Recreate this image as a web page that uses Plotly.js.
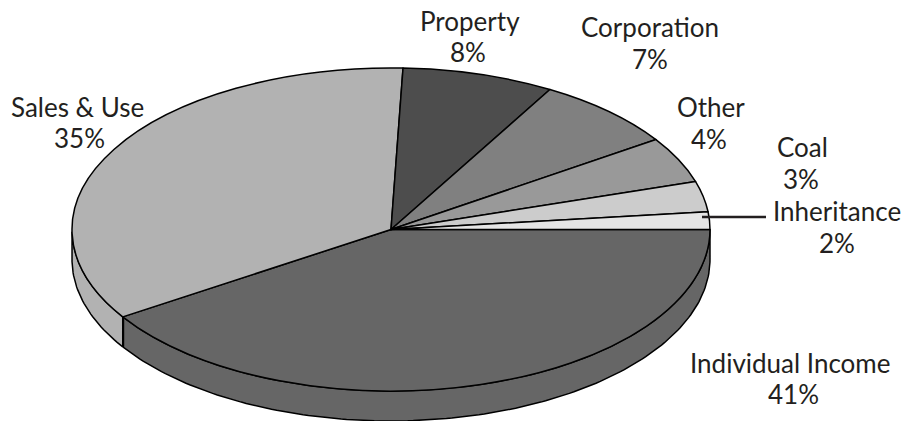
<!DOCTYPE html>
<html>
<head>
<meta charset="utf-8">
<script src="https://cdn.plot.ly/plotly-3.0.1.min.js"></script>
<style>
html,body{margin:0;padding:0;background:#fff;overflow:hidden}
.pielayer path{vector-effect:non-scaling-stroke}
.annotation text{font-variant-ligatures:none}
</style>
</head>
<body>
<div id="chart" style="width:902px;height:421px"></div>
<script>
// Data
const categories = ["Individual Income", "Sales & Use", "Property", "Corporation", "Other", "Coal", "Inheritance"];
const sliceShares = [40.9, 34.7, 7.7, 7.3, 4.6, 3.05, 1.75];
const percentLabels = ["41%", "35%", "8%", "7%", "4%", "3%", "2%"];
const sliceColors = ["#666666", "#b2b2b2", "#4d4d4d", "#808080", "#999999", "#cccccc", "#e5e5e5"];
const nameX = [790, 77, 470, 650, 711, 802, 837];
const nameY = [363, 107, 21, 27, 107, 147, 211];
const percentX = [793, 79, 468, 650, 709, 801, 837];
const percentY = [394, 138, 52, 59, 139, 179, 243];

// Geometry of the tilted pie, in page pixels
const W = 902, H = 421, CX = 391, CY = 229.5, RX = 319, RY = 161.5, DEPTH = 30;
const LINE = "#000000", INK = "#231f20", FONT = "Lato, 'Noto Sans', sans-serif";

const total = sliceShares.reduce((a, b) => a + b, 0);
let run = 0;
const bounds = sliceShares.map(v => { const s = run; run += v; return [s / total * 360, run / total * 360]; });

// Side wall: only the part of the rim facing the viewer (0-180 degrees clockwise from east)
const wallTraces = [];
bounds.forEach((b, i) => {
  const from = b[0], to = Math.min(b[1], 180);
  if (from >= 180) return;
  const xs = [], ys = [];
  for (let t = from; t <= to + 1e-6; t += 1) {
    xs.push(CX + RX * Math.cos(t * Math.PI / 180));
    ys.push(CY + RY * Math.sin(t * Math.PI / 180));
  }
  const n = xs.length;
  for (let k = n - 1; k >= 0; k--) { xs.push(xs[k]); ys.push(ys[k] + DEPTH); }
  xs.push(xs[0]); ys.push(ys[0]);
  wallTraces.push({
    type: "scatter", mode: "lines", x: xs, y: ys, fill: "toself",
    fillcolor: sliceColors[i], line: { color: LINE, width: 1.5 },
    hoverinfo: "skip", showlegend: false
  });
});

const pieTrace = {
  type: "pie",
  labels: categories,
  values: sliceShares,
  sort: false,
  direction: "clockwise",
  rotation: 90,
  textinfo: "none",
  hoverinfo: "label+text",
  text: percentLabels,
  marker: { colors: sliceColors, line: { color: LINE, width: 1.5 } },
  domain: { x: [0, 1], y: [0, 1] },
  showlegend: false
};

const makeLabel = (text, x, y) => ({
  x: x, y: y, xref: "x", yref: "y", text: text,
  showarrow: false, align: "center", xanchor: "center", yanchor: "middle",
  font: { family: FONT, size: 26, color: INK }
});
const annotations = categories.map((c, i) => makeLabel(c, nameX[i], nameY[i]))
  .concat(percentLabels.map((p, i) => makeLabel(p, percentX[i], percentY[i])));

const layout = {
  width: W, height: H,
  margin: { l: 0, r: 0, t: 0, b: 0 },
  paper_bgcolor: "#ffffff", plot_bgcolor: "#ffffff",
  showlegend: false,
  xaxis: { range: [0, W], visible: false, fixedrange: true },
  yaxis: { range: [H, 0], visible: false, fixedrange: true },
  annotations: annotations,
  shapes: [{
    type: "line", xref: "x", yref: "y", layer: "above",
    x0: 702, x1: 766, y0: 217, y1: 217,
    line: { color: INK, width: 2.5 }
  }]
};

Plotly.newPlot("chart", wallTraces.concat([pieTrace]), layout, { displayModeBar: false, staticPlot: true }).then(() => {
  // Tilt the circular pie into the ellipse of the reference.
  const r = Math.min(W, H) / 2;
  document.querySelector(".pielayer").setAttribute(
    "transform",
    `translate(${CX},${CY}) scale(${RX / r},${RY / r}) translate(${-W / 2},${-H / 2})`
  );
});
</script>
</body>
</html>
